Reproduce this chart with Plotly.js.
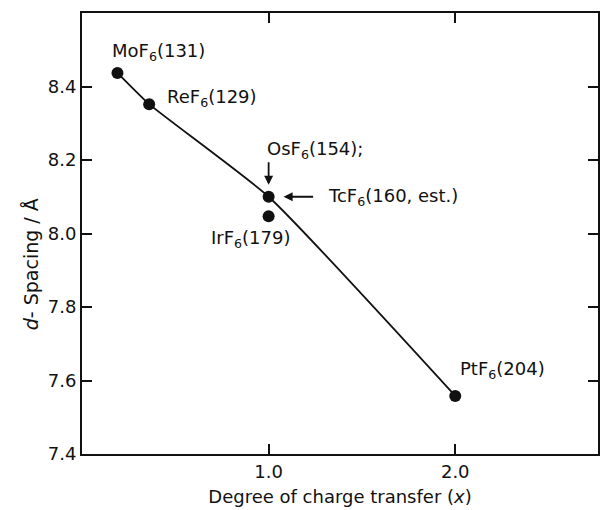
<!DOCTYPE html>
<html>
<head>
<meta charset="utf-8">
<script src="https://cdn.plot.ly/plotly-3.0.1.min.js"></script>
<style>html,body{margin:0;padding:0;background:#fff;}#chart{width:600px;height:510px;}</style>
</head>
<body>
<div id="chart"></div>
<script>
// Measured compounds: degree of charge transfer (x) vs d-spacing (Å)
const compounds = ["MoF6", "ReF6", "OsF6/TcF6", "IrF6", "PtF6"];
const chargeTransfer = [0.19, 0.36, 1.0, 1.0, 2.0];
const dSpacing = [8.437, 8.352, 8.100, 8.047, 7.558];

// Smooth trend curve drawn through the data
const curveX = [0.19, 0.36, 1.0, 2.0];
const curveY = [8.437, 8.352, 8.100, 7.558];

// Labels
const labelText = ["MoF<sub>6</sub>(131)", "ReF<sub>6</sub>(129)", "OsF<sub>6</sub>(154);",
                   "TcF<sub>6</sub>(160, est.)", "IrF<sub>6</sub>(179)", "PtF<sub>6</sub>(204)"];
const labelX = [0.19, 0.36, 1.0, 1.0, 1.0, 2.0];
const labelY = [8.437, 8.352, 8.100, 8.100, 8.047, 7.558];

const yTicks = [7.4, 7.6, 7.8, 8.0, 8.2, 8.4];
const xTicks = [1.0, 2.0];
const xTickText = ["1.0", "2.0"];

const font = {family: "DejaVu Sans", size: 18, color: "#111"};

const traces = [
  {x: curveX, y: curveY, mode: "lines", line: {color: "#111", width: 1.8, shape: "spline", smoothing: 0.5},
   hoverinfo: "skip", showlegend: false},
  {x: chargeTransfer, y: dSpacing, mode: "markers", text: compounds,
   marker: {color: "#111", size: 12}, showlegend: false}
];

// label offsets (pixels, right / down) relative to each point
const offs = [[41, -21], [63, -6], [46, -47], [124, 0], [-18, 23], [47, -26]];
const annotations = labelText.map((t, i) => ({
  x: labelX[i], y: labelY[i], xref: "x", yref: "y", text: t, showarrow: false,
  xshift: offs[i][0], yshift: -offs[i][1], font: font
}));
// arrows for OsF6 and TcF6
annotations.push({x: labelX[2], y: labelY[2], xref: "x", yref: "y", text: "", showarrow: true,
  ax: 0, ay: -36, arrowhead: 2, arrowsize: 1, arrowwidth: 1.8, arrowcolor: "#111", standoff: 12});
annotations.push({x: labelX[3], y: labelY[3], xref: "x", yref: "y", text: "", showarrow: true,
  ax: 46, ay: 0, arrowhead: 2, arrowsize: 1, arrowwidth: 1.8, arrowcolor: "#111", standoff: 15});
// y-axis title placed as in the reference (lower than centre)
annotations.push({xref: "paper", yref: "paper", x: -0.099, y: 0.43, xanchor: "center", yanchor: "middle",
  text: "<i>d</i>- Spacing / Å", textangle: -90, showarrow: false,
  font: {family: "DejaVu Sans", size: 19, color: "#111"}});

const axisCommon = {
  showline: true, linewidth: 2, linecolor: "#111", mirror: "ticks",
  ticks: "inside", ticklen: 10, tickwidth: 2, tickcolor: "#111",
  showgrid: false, zeroline: false, tickfont: font
};

const layout = {
  width: 600, height: 510,
  margin: {l: 82, r: 2, t: 13, b: 56},
  paper_bgcolor: "#fff", plot_bgcolor: "#fff",
  font: font,
  xaxis: Object.assign({}, axisCommon, {
    range: [0, 2.765], tickvals: xTicks, ticktext: xTickText,
    title: {text: "Degree of charge transfer (<i>x</i>)", font: font, standoff: 10}
  }),
  yaxis: Object.assign({}, axisCommon, {
    range: [7.4, 8.6], tickvals: yTicks, tickformat: ".1f"
  }),
  annotations: annotations,
  showlegend: false
};

Plotly.newPlot("chart", traces, layout, {displayModeBar: false, staticPlot: true});
</script>
</body>
</html>
